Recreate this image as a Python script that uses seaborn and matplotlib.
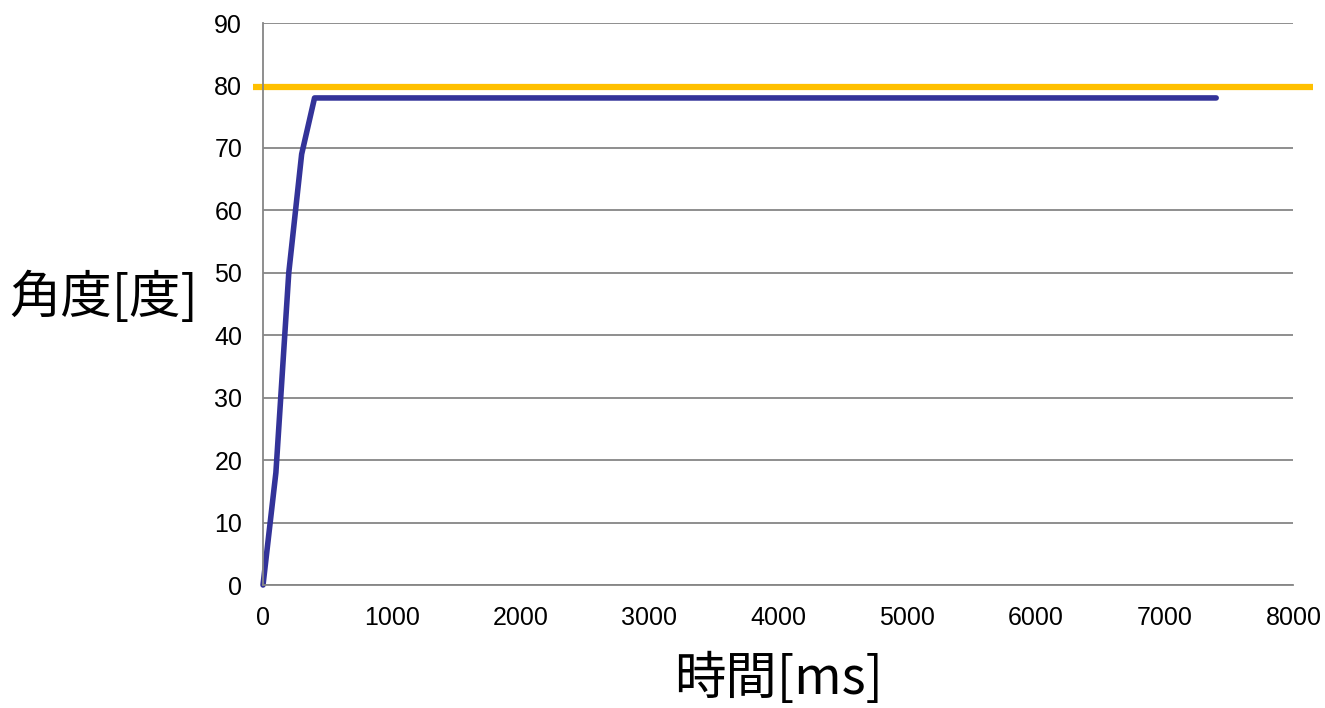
import matplotlib.pyplot as plt
import pandas as pd
import seaborn as sns

# measured angle over time
time_ms = [0, 100, 200, 300, 400, 1000, 2000, 3000, 4000, 5000, 6000, 7000, 7400]
angle_deg = [0, 18, 50, 69, 78, 78, 78, 78, 78, 78, 78, 78, 78]

# target angle (reference line)
target_x = [-80, 8150]
target_angle = 79.7

x_ticks = [0, 1000, 2000, 3000, 4000, 5000, 6000, 7000, 8000]
y_ticks = [0, 10, 20, 30, 40, 50, 60, 70, 80, 90]

df = pd.DataFrame({'time': time_ms, 'angle': angle_deg})
df_target = pd.DataFrame({'time': target_x, 'angle': [target_angle] * len(target_x)})

sns.set_style('white')
plt.rcParams['font.family'] = ['Liberation Sans', 'DejaVu Sans']

fig = plt.figure(figsize=(13.25, 7.08), dpi=100)
ax = fig.add_axes([0.1985, 0.1737, 0.7777, 0.7938])

ax.set_xlim(0, 8000)
ax.set_ylim(0, 90)
ax.set_xticks(x_ticks)
ax.set_yticks(y_ticks)
ax.yaxis.grid(True, color='#868686', linewidth=1.3)
ax.set_axisbelow(True)

sns.lineplot(data=df, x='time', y='angle', ax=ax, color='#333399', linewidth=4,
             solid_capstyle='round', clip_on=False)
sns.lineplot(data=df_target, x='time', y='angle', ax=ax, color='#FFC000',
             linewidth=4.5, solid_capstyle='butt')
ax.lines[-1].set_clip_on(False)

for s in ['top', 'right']:
    ax.spines[s].set_visible(False)
for s in ['left', 'bottom']:
    ax.spines[s].set_color('#868686')
    ax.spines[s].set_linewidth(1.3)

ax.tick_params(axis='both', which='major', direction='out', length=6, width=1.3,
               color='#868686', labelsize=18, labelcolor='black')
ax.tick_params(axis='y', pad=9)
ax.tick_params(axis='x', pad=9)

cjk = ['Noto Sans CJK JP', 'DejaVu Sans']
ax.set_xlabel('時間[ms]', fontsize=37, family=cjk, color='black', va='center')
ax.set_ylabel('角度[度]', fontsize=37, family=cjk, color='black', rotation=0,
              va='center', ha='center')
ax.xaxis.set_label_coords(0.5, -0.168)
ax.yaxis.set_label_coords(-0.155, 0.51)

plt.savefig('out.png', dpi=100)
